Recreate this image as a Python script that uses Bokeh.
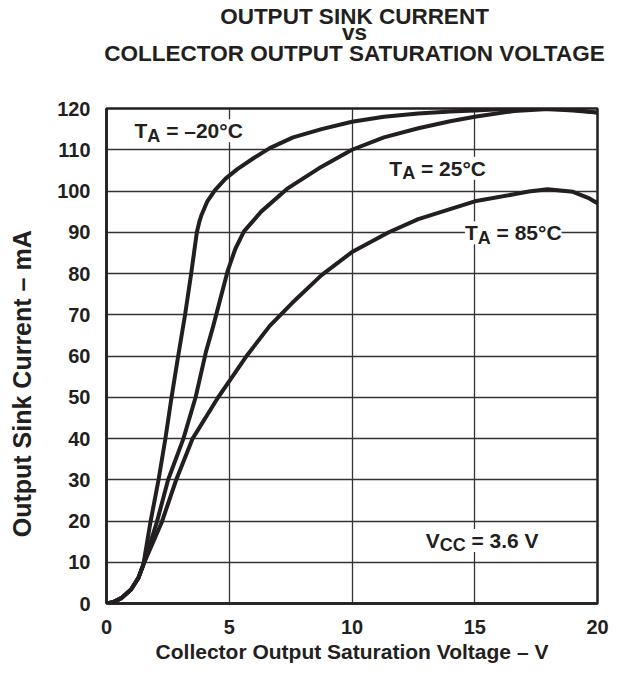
from bokeh.plotting import figure
from bokeh.models import Label, FixedTicker, Range1d
from bokeh.layouts import column
from bokeh.core.properties import value
from bokeh.embed import file_html
from bokeh.resources import INLINE

# ---- data (V, mA) ----
v_m20 = [0, 0.3, 0.6, 1.0, 1.3, 1.5, 1.79, 2.12, 2.4, 2.65, 2.92, 3.2, 3.45, 3.68,
         3.78, 3.87, 4.1, 4.42, 4.85, 5.33, 6.0, 6.65, 7.6, 8.76, 10.0, 11.3, 12.7, 14.0,
         15.0, 16.6, 18.0, 19.0, 20.0]
i_m20 = [0, 0.4, 1.3, 3.4, 6.2, 9.4, 19.7, 30.0, 40.0, 50.0, 60.0, 70.0, 80.0, 90.0,
         92.5, 94.2, 97.4, 100.2, 103.0, 105.3, 108.0, 110.4, 113.0, 115.0, 116.8, 118.0, 118.8, 119.3,
         119.5, 120.0, 119.9, 119.5, 119.0]

v_25 = [0, 0.3, 0.6, 1.0, 1.3, 1.5, 2.05, 2.51, 3.13, 3.63, 4.05, 4.35, 4.94, 5.25,
        5.6, 6.3, 7.35, 8.76, 10.0, 11.3, 12.7, 14.0, 15.0, 16.6, 18.0, 19.0, 20.0]
i_25 = [0, 0.4, 1.3, 3.4, 6.2, 9.4, 19.7, 30.0, 39.9, 50.0, 61.0, 67.3, 80.7, 86.0,
        90.2, 95.0, 100.5, 105.9, 110.0, 113.0, 115.2, 116.9, 118.0, 119.4, 119.9, 119.7, 119.0]

v_85 = [0, 0.3, 0.6, 1.0, 1.3, 1.5, 2.25, 2.84, 3.5, 4.55, 5.08, 5.73, 6.65, 7.57,
        8.76, 10.0, 11.5, 12.7, 15.0, 16.6, 17.2, 17.96, 19.0, 19.67, 20.0]
i_85 = [0, 0.4, 1.3, 3.4, 6.2, 9.4, 19.7, 30.0, 39.9, 50.0, 54.6, 60.2, 67.3, 72.9,
        79.6, 85.2, 90.0, 93.2, 97.5, 99.2, 99.9, 100.4, 99.8, 98.2, 97.0]

x_ticks = [0, 5, 10, 15, 20]
y_ticks = [0, 10, 20, 30, 40, 50, 60, 70, 80, 90, 100, 110, 120]

title_lines = ["OUTPUT SINK CURRENT", "vs", "COLLECTOR OUTPUT SATURATION VOLTAGE"]
x_label = "Collector Output Saturation Voltage \u2013 V"
y_label = "Output Sink Current \u2013 mA"

FONT = "Liberation Sans"
INK = "#231f20"
W_TOTAL, H_TOTAL, H_TITLE = 610, 665, 70

# ---------------- title strip ----------------
tf = figure(width=W_TOTAL, height=H_TITLE, x_range=Range1d(0, W_TOTAL), y_range=Range1d(H_TITLE, 0),
            x_axis_type=None, y_axis_type=None, min_border=0, outline_line_color=None,
            output_backend="svg", toolbar_location=None, frame_align=False,
            background_fill_color="white", border_fill_color="white")
tf.grid.visible = False
tf.text(x=[354, 354, 354], y=[15.7, 32.3, 53.3], text=title_lines,
        text_font=value(FONT), text_font_size=value("22.5px"), text_font_style="bold",
        text_color=INK, text_align="center", text_baseline="alphabetic")

# ---------------- main chart ----------------
p = figure(width=W_TOTAL, height=H_TOTAL - H_TITLE, x_range=Range1d(0, 20), y_range=Range1d(0, 120),
           output_backend="svg", toolbar_location=None, frame_align=False,
           min_border_left=106, min_border_right=13, min_border_top=38, min_border_bottom=60,
           background_fill_color="white", border_fill_color="white")

for ax in (p.xaxis[0], p.yaxis[0]):
    ax.major_tick_line_color = None
    ax.minor_tick_line_color = None
    ax.axis_line_color = INK
    ax.axis_line_width = 2.5
    ax.major_label_text_font = FONT
    ax.major_label_text_font_size = "20px"
    ax.major_label_text_font_style = "bold"
    ax.major_label_text_color = INK
    ax.major_label_standoff = 10
    ax.axis_label_text_font = FONT
    ax.axis_label_text_font_style = "bold"
    ax.axis_label_text_color = INK

p.xaxis.ticker = FixedTicker(ticks=x_ticks)
p.yaxis.ticker = FixedTicker(ticks=y_ticks)
p.xaxis.major_label_standoff = 10
p.xaxis.axis_label = x_label
p.xaxis.axis_label_text_font_size = "21px"
p.xaxis.axis_label_standoff = 3
# trailing no-break spaces shift the rotated label down, as in the original
p.yaxis.axis_label = y_label + "\u00a0" * 8
p.yaxis.axis_label_text_font_size = "25px"
p.yaxis.axis_label_standoff = 18

p.xgrid.ticker = FixedTicker(ticks=x_ticks)
p.ygrid.ticker = FixedTicker(ticks=y_ticks)
p.grid.grid_line_color = "#333333"
p.grid.grid_line_width = 1.3
p.outline_line_color = INK
p.outline_line_width = 2.5
p.outline_line_alpha = 1.0

for xs, ys in ((v_m20, i_m20), (v_25, i_25), (v_85, i_85)):
    p.line(xs, ys, line_color=INK, line_width=4, line_join="round", line_cap="round")

# curve labels with subscripts (white boxes break the grid lines behind them)
W = {"T": 611, "A": 722, "C": 722, "V": 667, " ": 278, "\u00a0": 278, "=": 584,
     "\u2013": 556, "\u00b0": 400, ".": 278}
def text_width(s, size):
    return sum(W.get(ch, 556) for ch in s) * size / 1000.0

LIFT = 7  # px

def make_label(x, y, off, dy, txt, size):
    return Label(x=x, y=y, x_offset=off, y_offset=dy + LIFT, text=txt,
                 text_font=FONT, text_font_size=f"{size}px", text_font_style="bold",
                 text_color=INK, text_baseline="alphabetic", text_align="left",
                 background_fill_color="white")

def composite(x, y, main, sub, rest, big=21, small=18):
    w_main = text_width(main, big)
    w_sub = text_width(sub, small)
    p.add_layout(make_label(x, y, 0, 0, main, big))
    p.add_layout(make_label(x, y, w_main, -5, sub, small))
    p.add_layout(make_label(x, y, w_main + w_sub, 0, "\u00a0" + rest, big))

composite(1.14, 112.9, "T", "A", "= \u201320\u00b0C")
composite(11.52, 103.8, "T", "A", "= 25\u00b0C")
composite(14.6, 88.2, "T", "A", "= 85\u00b0C")
composite(13.0, 13.6, "V", "CC", "= 3.6 V")

layout = column(tf, p, spacing=0)
open("out.html", "w").write(file_html(layout, INLINE))
